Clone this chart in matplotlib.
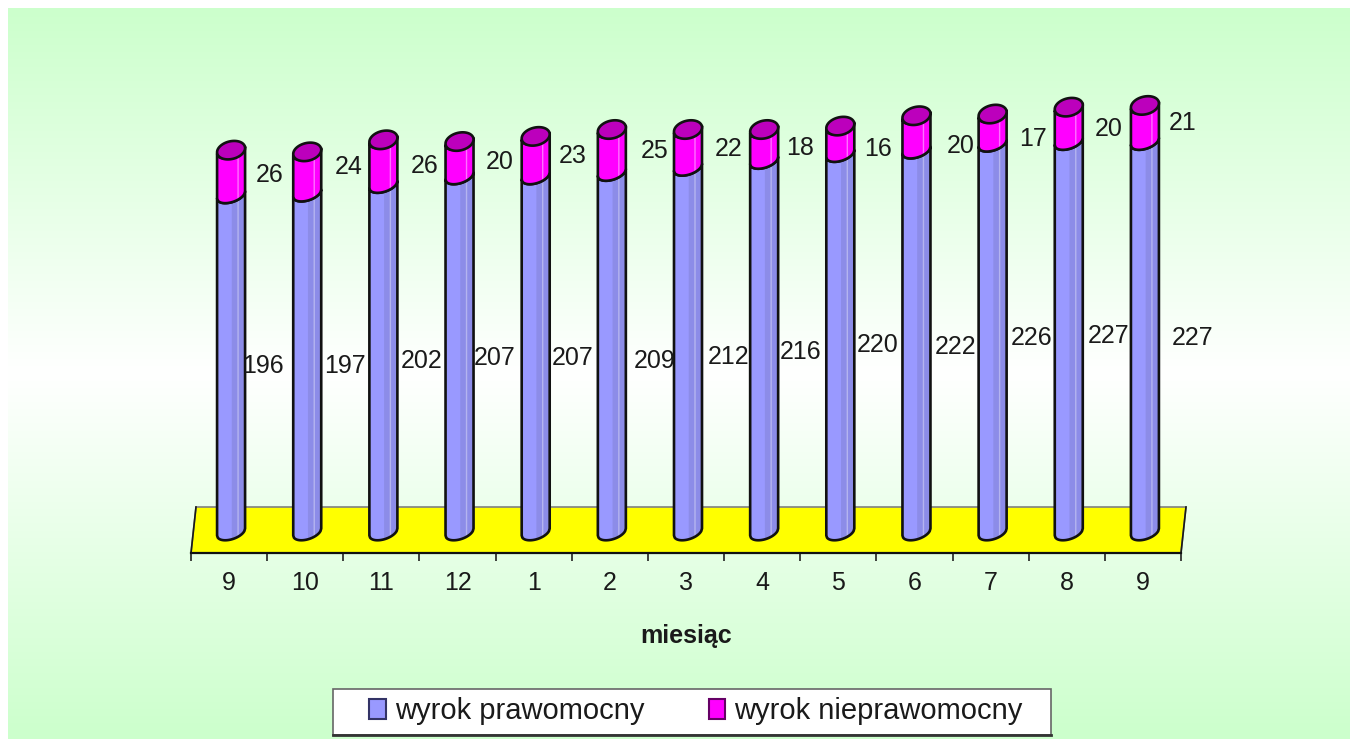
import numpy as np
import matplotlib
matplotlib.use('Agg')
import matplotlib.pyplot as plt
from matplotlib.lines import Line2D
from matplotlib.patches import Polygon, Patch, Rectangle

# Data
months = ['9', '10', '11', '12', '1', '2', '3', '4', '5', '6', '7', '8', '9']
prawomocny = [196, 197, 202, 207, 207, 209, 212, 216, 220, 222, 226, 227, 227]
nieprawomocny = [26, 24, 26, 20, 23, 25, 22, 18, 16, 20, 17, 20, 21]

# Label nudges in pixels, the original labels are placed unevenly
dx_low = [32, 38, 38, 35, 37, 43, 41, 36, 37, 39, 39, 40, 48]
dy_low = [3, 3, 3, 4, 4, 9, 7, 6, 2, 6, 0, -1, 1]
dx_high = [39, 41, 41, 40, 37, 43, 41, 36, 38, 44, 40, 40, 38]
dy_high = [2, -6, 4, 3, 0, 0, 1, 3, 9, 13, 10, 5, 0]

W, H = 1350, 739
BLUE, BLUE_DARK, BLUE_LIGHT = '#9999FF', '#8C8CE8', '#B4B4F0'
PINK, PINK_DARK, PINK_LIGHT = '#FF00FF', '#BC00BC', '#FF70FF'
GREEN = np.array([204, 255, 204]) / 255
INK = '#1A1A1A'

plt.rcParams['font.family'] = ['Liberation Sans', 'DejaVu Sans']
fig = plt.figure(figsize=(W / 100, H / 100), dpi=100, facecolor='white')


def px(x, y):
    # pixel position from the top left corner -> figure fraction
    return x / W, 1 - y / H


def fig_line(p0, p1, color, lw, z):
    xs, ys = zip(px(*p0), px(*p1))
    fig.add_artist(Line2D(xs, ys, transform=fig.transFigure, color=color, linewidth=lw, zorder=z))


# Background panel, green - white - green
bg = fig.add_axes([8 / W, 0, (W - 8) / W, (H - 8) / H], zorder=0)
t = np.abs(np.linspace(-1, 1, 256))[:, None, None]
bg.imshow(1 - t * (1 - GREEN), aspect='auto')
bg.axis('off')

# Floor
floor = Polygon([px(191, 553), px(1181, 553), px(1186, 507), px(196, 507)],
                transform=fig.transFigure, facecolor='#FFFF00', edgecolor='#808080',
                linewidth=1.2, zorder=1)
fig.add_artist(floor)
fig_line((191, 553), (196, 507), INK, 1.2, 1.5)
fig_line((1181, 553), (1186, 507), INK, 1.2, 1.5)

# Plot area, value 0 sits at pixel 532
left, right, bottom, top = 191, 1181, 553, 60
ax = fig.add_axes([left / W, 1 - bottom / H, (right - left) / W, (bottom - top) / H], zorder=2)
ax.patch.set_alpha(0)
per_value = 1.72
ax.set_xlim(-0.5, 12.5)
ax.set_ylim(-(bottom - 532) / per_value, (532 - top) / per_value)
per_cat = (right - left) / 13

for s in ['top', 'left', 'right']:
    ax.spines[s].set_visible(False)
ax.spines['bottom'].set_linewidth(1.6)
ax.spines['bottom'].set_color('#111111')
ax.set_yticks([])
ax.set_xticks(np.arange(-0.5, 13, 1))
ax.set_xticklabels([])
ax.tick_params(axis='x', which='major', length=6, width=1.2, color='#222222')
ax.set_xticks(np.arange(13), labels=months, minor=True)
ax.tick_params(axis='x', which='minor', length=0, labelsize=18, pad=13, labelcolor=INK)
ax.set_xlabel('miesiąc', fontsize=18, fontweight='bold', labelpad=21, color=INK)

# Cylinder sizes, from pixels to data units
a = 14 / per_cat
b = 7.5 / per_value
k = 3.5 / per_value
shift = 2 / per_cat


def front(f):
    return -b * np.sqrt(1 - f ** 2) + k * f


def band(x, v0, v1, f0, f1, color, z):
    f = np.linspace(f0, f1, 40)
    xs = x + a * f
    pts = np.r_[np.c_[xs, v0 + front(f)], np.c_[xs[::-1], v1 + front(f)[::-1]]]
    ax.add_patch(Polygon(pts, closed=True, facecolor=color, edgecolor='none', zorder=z))


def outline(x, v0, v1, z):
    f = np.linspace(-1, 1, 40)
    xs = x + a * f
    pts = np.r_[np.c_[xs, v0 + front(f)], np.c_[xs[::-1], v1 + front(f)[::-1]]]
    ax.add_patch(Polygon(pts, closed=True, facecolor='none', edgecolor='#111111',
                         linewidth=1.9, zorder=z, joinstyle='round'))


def cylinder(x, v0, v1, base, dark, light, z):
    band(x, v0, v1, -1, 1, base, z)
    band(x, v0, v1, 0.05, 1, dark, z + 0.1)
    band(x, v0, v1, 0.45, 0.55, light, z + 0.2)
    outline(x, v0, v1, z + 0.3)


for i in range(13):
    x = i + shift
    low = prawomocny[i]
    high = low + nieprawomocny[i]
    cylinder(x, 0, low, BLUE, BLUE_DARK, BLUE_LIGHT, 3)
    cylinder(x, low, high, PINK, PINK, PINK_LIGHT, 4)
    # top cap
    t = np.linspace(0, 2 * np.pi, 80)
    cap = np.c_[x + a * np.cos(t), high + b * np.sin(t) * 1.2 + 0.6 * k * np.cos(t)]
    ax.add_patch(Polygon(cap, closed=True, facecolor=PINK_DARK, edgecolor='#111111',
                         linewidth=1.9, zorder=5))

    ax.text(x + dx_low[i] / per_cat, low / 2 - dy_low[i] / per_value, str(low),
            fontsize=18, color=INK, ha='center', va='center', zorder=6)
    ax.text(x + dx_high[i] / per_cat, low + nieprawomocny[i] / 2 - dy_high[i] / per_value,
            str(nieprawomocny[i]), fontsize=18, color=INK, ha='center', va='center', zorder=6)

# Legend, frame drawn apart because the box is wider than its entries
x0, y0 = px(333, 735)
x1, y1 = px(1051, 689)
fig.add_artist(Rectangle((x0, y0), x1 - x0, y1 - y0, transform=fig.transFigure,
                         facecolor='white', edgecolor='#666666', linewidth=1.2, zorder=6))
fig_line((333, 735), (1051, 735), '#333333', 2, 6.5)

handles = [Patch(facecolor=BLUE, edgecolor='#333366', linewidth=1.5, label='wyrok prawomocny'),
           Patch(facecolor=PINK, edgecolor='#660066', linewidth=1.5, label='wyrok nieprawomocny')]
leg = fig.legend(handles=handles, ncol=2, loc='center', fontsize=21,
                 bbox_to_anchor=px(696, 711), frameon=False, labelcolor=INK,
                 handlelength=0.58, handleheight=0.68, handletextpad=0.31,
                 columnspacing=2.19, borderpad=0, borderaxespad=0)
leg.set_zorder(7)

fig.savefig('out.png', dpi=100)
